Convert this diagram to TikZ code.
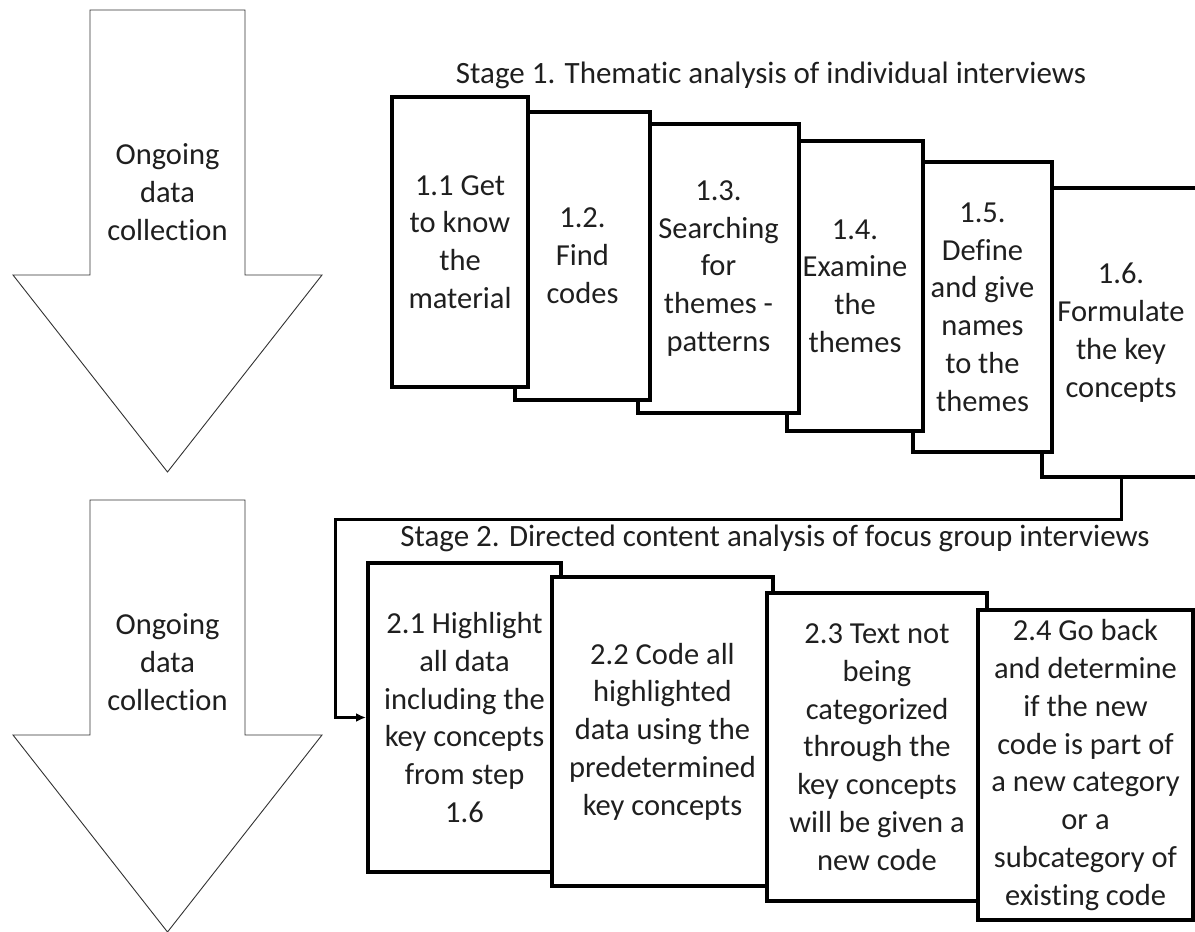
\documentclass[tikz,border=0pt]{standalone}
\usepackage{fontspec}
\setmainfont{Carlito}[Ligatures={NoCommon}]
\usetikzlibrary{arrows.meta}
\begin{document}
\begin{tikzpicture}[x=1pt,y=-1pt,
  txt/.style={font=\fontsize{30.5}{37.8}\selectfont, text=black!88, align=center},
  stepbox/.style={txt, draw=black, line width=4pt, fill=white, inner sep=0pt},
  bigarrow/.style={draw=black!80, line width=0.9pt, fill=white},
  title/.style={font=\fontsize{31}{36}\selectfont, text=black!88},
  conn/.style={draw=black, line width=3pt, -{Latex[length=10pt,width=9pt]}}
]
\useasboundingbox (0,0) rectangle (1195,932);

% big arrows
\draw[bigarrow] (90,10) -- (245,10) -- (245,275) -- (322,275) -- (167.5,472) -- (13,275) -- (90,275) -- cycle;
\node[txt] (a1) at (167.5,192) {Ongoing\\data\\collection};
\draw[bigarrow] (90,500) -- (245,500) -- (245,735) -- (322,735) -- (167.5,932) -- (13,735) -- (90,735) -- cycle;
\node[txt] (a2) at (167.5,662) {Ongoing\\data\\collection};

% titles
\node[title] (t1) at (771,75) {Stage 1. Thematic analysis of individual interviews};
\node[title] (t2) at (775,538) {Stage 2. Directed content analysis of focus group interviews};

% stage 1 boxes (earlier ones on top)
\node[stepbox, minimum width=158, minimum height=289] (b16) at (1121,332.5) {1.6.\\Formulate\\the key\\concepts};
\node[stepbox, minimum width=139, minimum height=290] (b15) at (982.5,307) {1.5.\\Define\\and give\\names\\to the\\themes};
\node[stepbox, minimum width=136, minimum height=290] (b14) at (855,286) {1.4.\\Examine\\the\\themes};
\node[stepbox, minimum width=161, minimum height=289] (b13) at (718.5,268.5) {1.3.\\Searching\\for\\themes -\\patterns};
\node[stepbox, minimum width=135, minimum height=288] (b12) at (582.5,256) {1.2.\\Find\\codes};
\node[stepbox, minimum width=136, minimum height=290] (b11) at (460,242) {1.1 Get\\to know\\the\\material};

% stage 2 boxes (later ones on top)
\node[stepbox, minimum width=193, minimum height=309] (b21) at (464.5,717.5) {2.1 Highlight\\all data\\including the\\key concepts\\from step\\1.6};
\node[stepbox, minimum width=221, minimum height=309] (b22) at (662.5,731.5) {2.2 Code all\\highlighted\\data using the\\predetermined\\key concepts};
\node[stepbox, minimum width=220, minimum height=308] (b23) at (877,747) {2.3 Text not\\being\\categorized\\through the\\key concepts\\will be given a\\new code};
\node[stepbox, minimum width=215, minimum height=310] (b24) at (1085.5,765) {2.4 Go back\\and determine\\if the new\\code is part of\\a new category\\or a\\subcategory of\\existing code};

% connector
\coordinate (c1) at (335,519);
\draw[conn] (b16.south) |- (c1) |- (b21.west);
\end{tikzpicture}
\end{document}
